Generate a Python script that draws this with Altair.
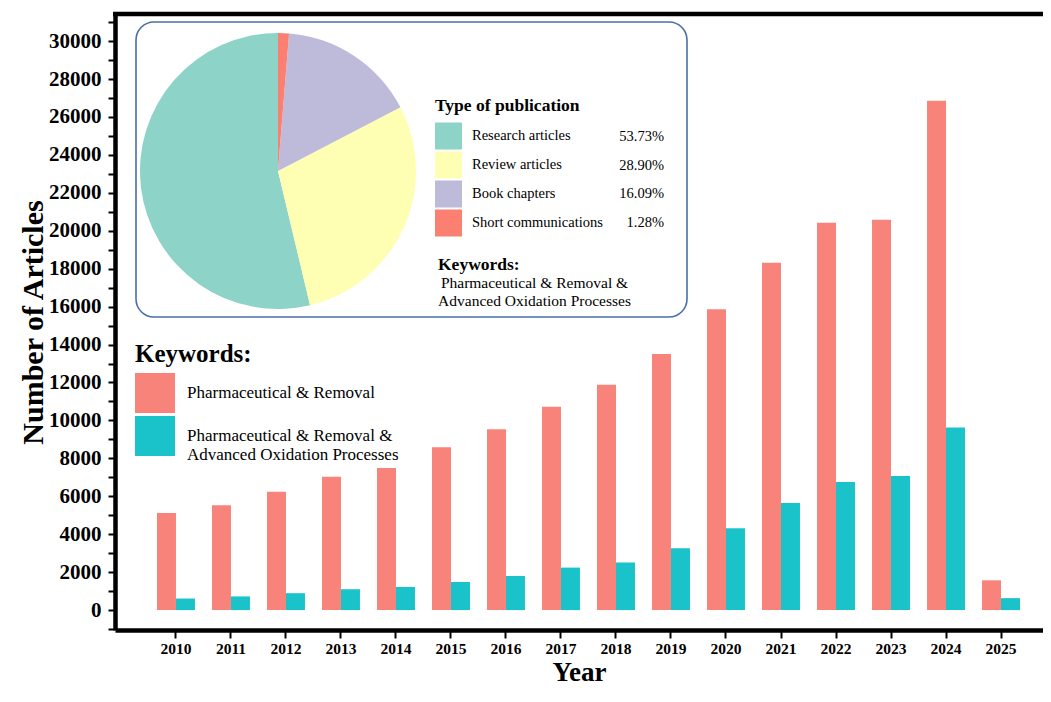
import altair as alt
import pandas as pd

# ---------------- data ----------------
years = [str(y) for y in range(2010, 2026)]
removal = [5120, 5530, 6240, 7030, 7490, 8590, 9530, 10720, 11880, 13500,
           15860, 18320, 20420, 20580, 26860, 1570]
aop = [610, 720, 890, 1100, 1220, 1480, 1800, 2240, 2510, 3260,
       4310, 5640, 6750, 7070, 9630, 630]
series_names = ["Pharmaceutical & Removal",
                "Pharmaceutical & Removal & Advanced Oxidation Processes"]
series_colors = ["#F8837A", "#1AC3CA"]

pub_types = ["Research articles", "Review articles", "Book chapters", "Short communications"]
pub_shares = [53.73, 28.90, 16.09, 1.28]
pub_labels = ["53.73%", "28.90%", "16.09%", "1.28%"]
pub_colors = ["#8DD3C7", "#FFFFB3", "#BEBADA", "#FB8072"]
pie_order = [3, 2, 1, 0]

inset_keywords = ["Pharmaceutical & Removal &", "Advanced Oxidation Processes"]

FONT = "Liberation Serif"
W, H = 928, 616

bars_df = pd.DataFrame({
    "year": years * 2,
    "series": [series_names[0]] * len(years) + [series_names[1]] * len(years),
    "count": removal + aop,
})
pie_df = pd.DataFrame({"type": pub_types, "share": pub_shares,
                       "pct": pub_labels, "ord": pie_order})
one = pd.DataFrame({"a": [0]})

# ---------------- bars ----------------
bars = alt.Chart(bars_df).mark_bar().encode(
    x=alt.X("year:O", title="Year",
            scale=alt.Scale(paddingInner=0.31, paddingOuter=0.591, align=0.646),
            axis=alt.Axis(labelAngle=0, labelFont=FONT, labelFontSize=15.5,
                          labelFontWeight="bold", labelColor="black",
                          tickSize=8, tickWidth=2, labelPadding=3,
                          titleFont=FONT, titleFontSize=27, titleFontWeight="bold",
                          titleColor="black", titlePadding=3)),
    xOffset=alt.XOffset("series:N",
                        scale=alt.Scale(domain=series_names, paddingInner=0, paddingOuter=0)),
    y=alt.Y("count:Q", title="Number of Articles",
            scale=alt.Scale(domain=[-1050, 31429], nice=False, zero=False),
            axis=alt.Axis(values=list(range(-1000, 31001, 1000)), format="d",
                          labelExpr="(datum.value % 2000 == 0 && datum.value >= 0) ? datum.label : ''",
                          labelFont=FONT, labelFontSize=21, labelFontWeight="bold",
                          labelColor="black", tickSize=7, tickWidth=2, labelPadding=7,
                          titleFont=FONT, titleFontSize=30, titleFontWeight="bold",
                          titleColor="black", titlePadding=0)),
    color=alt.Color("series:N",
                    scale=alt.Scale(domain=series_names, range=series_colors),
                    legend=alt.Legend(
                        title="Keywords:", orient="none", legendX=20, legendY=328,
                        titleFont=FONT, titleFontSize=25, titleFontWeight="bold",
                        titleColor="black", titlePadding=6,
                        symbolType="square", symbolSize=1600, symbolStrokeWidth=0,
                        labelFont=FONT, labelFontSize=17, labelColor="black",
                        labelOffset=12, rowPadding=3, labelLimit=500,
                        labelExpr="datum.label == '" + series_names[1] + "' ? ['Pharmaceutical & Removal &', 'Advanced Oxidation Processes'] : datum.label")),
)

# ---------------- inset box ----------------
box = alt.Chart(one).mark_rect(fill="white", stroke="#4A6FA8", strokeWidth=1.6,
                               cornerRadius=18).encode(
    x=alt.value(21), x2=alt.value(572), y=alt.value(8), y2=alt.value(303))

pie = alt.Chart(pie_df).mark_arc(radius=138).encode(
    theta=alt.Theta("share:Q", stack=True),
    order=alt.Order("ord:Q"),
    color=alt.Color("type:N", scale=alt.Scale(domain=pub_types, range=pub_colors),
                    legend=alt.Legend(
                        title="Type of publication", orient="none", legendX=320, legendY=83,
                        titleFont=FONT, titleFontSize=17.5, titleFontWeight="bold",
                        titleColor="black", titlePadding=8,
                        symbolType="square", symbolSize=729, symbolStrokeWidth=0,
                        labelFont=FONT, labelFontSize=14.5, labelColor="black",
                        labelOffset=10, rowPadding=2, labelLimit=400)),
    x=alt.value(163), y=alt.value(157),
)

pct = alt.Chart(pie_df).mark_text(align="right", baseline="middle", font=FONT,
                                  fontSize=14.5, color="black").encode(
    x=alt.value(549),
    y=alt.Y("type:N", scale=alt.Scale(domain=pub_types, range=[123, 209], padding=0),
            axis=None),
    text="pct:N",
)

kw_title = alt.Chart(one).mark_text(align="left", baseline="alphabetic", font=FONT,
                                    fontSize=17.5, fontWeight="bold", color="black").encode(
    x=alt.value(323), y=alt.value(256), text=alt.value("Keywords:"))

kw_text = alt.Chart(one).mark_text(align="center", baseline="alphabetic", font=FONT,
                                   fontSize=15.5, color="black", lineHeight=18).encode(
    x=alt.value(419.5), y=alt.value(274), text=alt.value(inset_keywords))

top_line = alt.Chart(one).mark_rule(color="black", strokeWidth=4.5).encode(
    x=alt.value(-2), x2=alt.value(W), y=alt.value(0))

chart = alt.layer(bars, top_line, box, pie, pct, kw_title, kw_text).resolve_scale(
    color="independent", y="independent"
).properties(
    width=W, height=H,
    autosize=alt.AutoSizeParams(type="none"),
    padding={"left": 107, "top": 6, "right": 0, "bottom": 58},
).configure_view(stroke=None).configure_axis(
    grid=False, domainColor="black", domainWidth=4.5, tickColor="black"
)

chart.save("out.html", embed_options={"renderer": "svg", "actions": False})
